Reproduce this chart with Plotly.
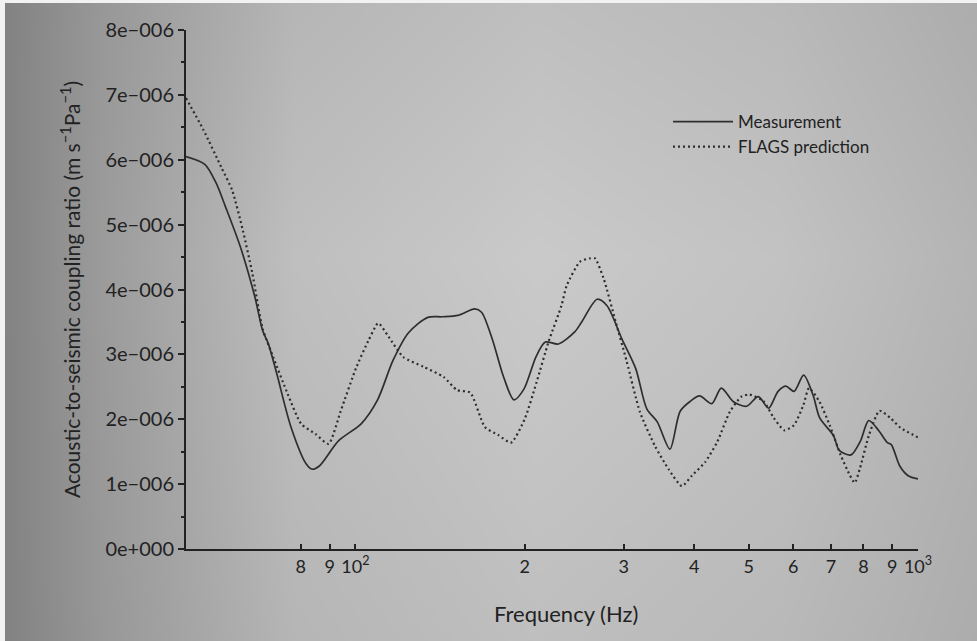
import base64
import struct
import zlib

import numpy as np
import plotly.graph_objects as go

# ---- data (coupling ratio in units of 1e-6 m s^-1 Pa^-1) ----
meas_freq = [50, 54.0, 56.5, 58.8, 62.5, 66.3, 68.4, 70.0, 72.5, 76.9, 81.8, 83.8, 86.3,
             93.4, 102.4, 109.4, 116.7, 124.2, 134.5, 142.5, 152.2, 163.0, 167.6,
             175.2, 183.3, 191.3, 199.2, 209.6, 217.6, 229.6, 245.6, 252.5, 269.0,
             280.1, 297.6, 315.0, 329.6, 344.0, 362.3, 377.6, 392.8, 409.1, 430.0,
             447.1, 469.9, 495.8, 520.3, 542.5, 564.0, 582.2, 602.2, 626.3, 651.0,
             668.8, 707.5, 724.5, 760.0, 790.7, 817.2, 852.5, 882.1, 896.5, 928.1,
             960.6, 1000]
meas_val = [6.05, 5.93, 5.65, 5.27, 4.65, 3.88, 3.37, 3.17, 2.70, 1.87, 1.31, 1.23, 1.28,
            1.67, 1.93, 2.29, 2.91, 3.33, 3.57, 3.58, 3.60, 3.70, 3.65,
            3.23, 2.66, 2.30, 2.46, 2.97, 3.19, 3.16, 3.35, 3.50, 3.85,
            3.75, 3.24, 2.78, 2.16, 1.96, 1.54, 2.12, 2.27, 2.36, 2.24,
            2.48, 2.27, 2.20, 2.35, 2.17, 2.43, 2.51, 2.43, 2.68, 2.37,
            2.02, 1.75, 1.52, 1.45, 1.67, 1.98, 1.82, 1.64, 1.61, 1.28,
            1.13, 1.08]

pred_freq = [50, 53.7, 57.8, 60.4, 63.1, 65.6, 68.4, 71.5, 75.8, 80.1, 85.0, 89.6,
             94.2, 100.4, 105.6, 109.8, 114.6, 121.6, 132.1, 143.6, 151.6, 160.0,
             169.9, 179.2, 189.1, 199.9, 209.9, 220.4, 232.4, 237.5, 250.8, 261.2,
             266.6, 276.2, 290.2, 303.6, 320.5, 340.7, 360.3, 380.5, 396.3, 418.5,
             439.7, 463.3, 485.6, 501.3, 531.0, 554.3, 578.5, 602.0, 625.6, 640.2,
             667.3, 696.7, 728.4, 756.3, 772.0, 788.9, 818.5, 854.3, 893.0, 930.7,
             1000]
pred_val = [6.95, 6.46, 5.88, 5.53, 4.91, 4.25, 3.40, 2.95, 2.39, 1.93, 1.77, 1.62,
            2.13, 2.80, 3.22, 3.48, 3.27, 2.96, 2.81, 2.65, 2.45, 2.41,
            1.88, 1.76, 1.64, 2.00, 2.57, 3.19, 3.75, 4.06, 4.43, 4.48,
            4.48, 4.17, 3.50, 2.89, 2.11, 1.59, 1.23, 0.97, 1.13, 1.34,
            1.65, 2.12, 2.35, 2.38, 2.28, 2.02, 1.83, 1.91, 2.22, 2.48,
            2.28, 1.91, 1.45, 1.14, 1.02, 1.25, 1.76, 2.13, 2.02, 1.87,
            1.72]

UNIT = 1e-6

x_tickvals = [80, 90, 100, 200, 300, 400, 500, 600, 700, 800, 900, 1000]
x_ticktext = ["8", "9", "10<sup>2</sup>", "2", "3", "4", "5", "6", "7", "8", "9",
              "10<sup>3</sup>"]
y_tickvals = [i * UNIT for i in range(9)]
y_ticktext = ["0e+000"] + [f"{i}e\u2212006" for i in range(1, 9)]

# ---- canvas geometry ----
W, H = 977, 641
ML, MR, MT, MB = 186, 59, 30, 92
PW, PH = W - ML - MR, H - MT - MB

INK = "#222222"
FONT = "Lato"


def paper_png(w, h):
    """Soft grey page texture, brighter in the middle, darker at the edges."""
    u = np.linspace(0, 1, w)
    v = np.linspace(0, 1, h)
    hu = np.interp(u, [0, 0.1, 0.3, 0.55, 0.8, 1], [0, 0.35, 0.85, 1, 0.9, 0.7])
    gv = np.interp(v, [0, 0.4, 1], [0.85, 1, 0.85])
    img = np.clip(130 + 72 * np.outer(gv, hu), 0, 255).astype(np.uint8)
    raw = b"".join(b"\x00" + row.tobytes() for row in img)

    def chunk(tag, data):
        return (struct.pack(">I", len(data)) + tag + data
                + struct.pack(">I", zlib.crc32(tag + data) & 0xFFFFFFFF))

    png = (b"\x89PNG\r\n\x1a\n"
           + chunk(b"IHDR", struct.pack(">IIBBBBB", w, h, 8, 0, 0, 0, 0))
           + chunk(b"IDAT", zlib.compress(raw, 9))
           + chunk(b"IEND", b""))
    return "data:image/png;base64," + base64.b64encode(png).decode()


fig = go.Figure()
fig.add_trace(go.Scatter(
    x=meas_freq, y=[v * UNIT for v in meas_val], name="Measurement",
    mode="lines", line=dict(color="#2e2e2e", width=1.7, shape="spline", smoothing=0.8),
))
fig.add_trace(go.Scatter(
    x=pred_freq, y=[v * UNIT for v in pred_val], name="FLAGS prediction",
    mode="lines", line=dict(color="#2e2e2e", width=2.2, dash="2px,3px",
                            shape="spline", smoothing=0.6),
))

fig.update_layout(
    width=W, height=H,
    margin=dict(l=ML, r=MR, t=MT, b=MB),
    paper_bgcolor="#b8b8b8",
    plot_bgcolor="rgba(0,0,0,0)",
    font=dict(family=FONT, color=INK, size=18),
    showlegend=True,
    legend=dict(
        x=(668 - ML) / PW, y=(549 - 104) / PH, xanchor="left", yanchor="top",
        bgcolor="rgba(0,0,0,0)", font=dict(size=17, family=FONT, color=INK),
        itemwidth=60, tracegroupgap=0,
    ),
    xaxis=dict(
        type="log", range=[np.log10(50), 3],
        tickvals=x_tickvals, ticktext=x_ticktext,
        ticks="inside", ticklen=5, tickwidth=1.5, tickcolor=INK,
        showline=True, linecolor=INK, linewidth=2,
        showgrid=False, zeroline=False,
        tickfont=dict(size=18, family=FONT, color=INK),
    ),
    yaxis=dict(
        range=[0, 8 * UNIT],
        tickvals=y_tickvals, ticktext=y_ticktext,
        ticks="outside", ticklen=6, tickwidth=1.5, tickcolor=INK,
        minor=dict(dtick=0.5 * UNIT, ticks="outside", ticklen=3, tickcolor=INK),
        showline=True, linecolor=INK, linewidth=2,
        showgrid=False, zeroline=False,
        tickfont=dict(size=20, family=FONT, color=INK),
        title=dict(text="Acoustic-to-seismic coupling ratio (m s<sup>\u22121</sup>Pa<sup>\u22121</sup>)",
                   font=dict(size=21, family=FONT, color=INK), standoff=19),
    ),
    images=[dict(
        source=paper_png(489, 321), xref="paper", yref="paper",
        x=-ML / PW, y=1 + MT / PH, sizex=W / PW, sizey=H / PH,
        xanchor="left", yanchor="top", sizing="stretch", layer="below",
    )],
    annotations=[dict(
        text="Frequency (Hz)", xref="paper", yref="paper",
        x=(566 - ML) / PW, y=(549 - 613) / PH, xanchor="center", yanchor="middle",
        showarrow=False, font=dict(size=22, family=FONT, color=INK),
    )],
    shapes=[
        dict(type="rect", xref="paper", yref="paper", x0=-ML / PW, x1=(5 - ML) / PW,
             y0=1 + (MT - H) / PH, y1=1 + MT / PH, fillcolor="#f2f2f2", line_width=0,
             layer="below"),
        dict(type="rect", xref="paper", yref="paper", x0=-ML / PW, x1=1 + MR / PW,
             y0=1 + (MT - 3) / PH, y1=1 + MT / PH, fillcolor="#f2f2f2", line_width=0,
             layer="below"),
    ],
)

fig.write_html("out.html")
